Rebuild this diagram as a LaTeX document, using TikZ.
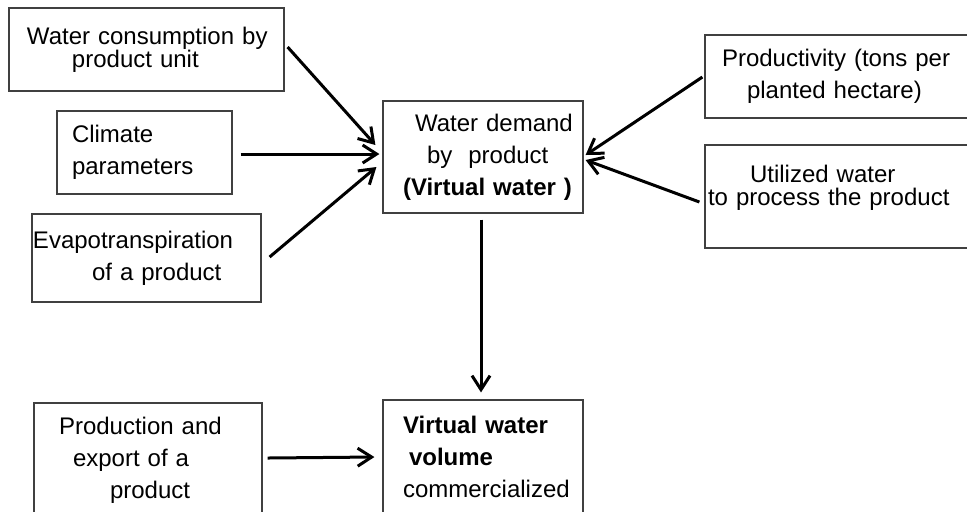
\documentclass[tikz,border=0pt]{standalone}
\usepackage{fontspec}
\setmainfont{Liberation Sans}
\usetikzlibrary{arrows.meta}

\begin{document}
\begin{tikzpicture}[x=0.5pt,y=-0.5pt,
    every node/.style={draw=black!75, line width=0.6pt, inner sep=0pt, align=left,
        font=\fontsize{12}{16}\selectfont},
    tight/.style={font=\fontsize{12}{11.5}\selectfont},
    >={Straight Barb[length=7pt,width=9pt]},
    flow/.style={->, line width=1.5pt},
]
\useasboundingbox (0,0) rectangle (967,511);
% inputs on the left
\node[tight, text width=137.5pt, minimum height=41.5pt] (cons) at (146.5,49.5)
    {\hspace*{9pt}Water consumption by\\\hspace*{31.5pt}product unit};
\node[text width=87.5pt, minimum height=41.5pt] (climate) at (144.5,152.5)
    {\hspace*{7.5pt}Climate\\\hspace*{7.5pt}parameters};
\node[text width=114.5pt, minimum height=44pt] (evapo) at (146.5,258)
    {\hspace*{0.5pt}Evapotranspiration\\\hspace*{30pt}of a product};
% centre
\node[text width=100pt, minimum height=56pt] (demand) at (483,157)
    {\hspace*{16pt}Water demand\\\hspace*{22pt}by~ product\\\hspace*{10pt}\textbf{(Virtual water )}};
% inputs on the right
\node[text width=132.5pt, minimum height=41.5pt] (prod) at (837.5,76.5)
    {\hspace*{8.5pt}Productivity (tons per\\\hspace*{21pt}planted hectare)};
\node[tight, text width=132.5pt, minimum height=51.5pt] (util) at (837.5,196.5)
    {\hspace*{22.5pt}Utilized water\\\hspace*{1.5pt}to process the product\\\mbox{}};
% bottom row
\node[text width=114pt, minimum height=57pt] (export) at (148,460)
    {\hspace*{12.5pt}Production and\\\hspace*{19.5pt}export of a\\\hspace*{38pt}product};
\node[text width=100pt, minimum height=57pt] (volume) at (483,457)
    {\hspace*{10pt}\textbf{Virtual water}\\\hspace*{13pt}\textbf{volume}\\\hspace*{10pt}commercialized};

\draw[flow] ([shift={(3,-2.5)}]cons.east) -- ([shift={(-7,-12)}]demand.west);
\draw[flow] ([shift={(8,1.5)}]climate.east) -- ([shift={(-3,-3)}]demand.west);
\draw[flow] ([shift={(8,-1)}]evapo.east) -- ([shift={(-6,10)}]demand.west);
\draw[flow] ([shift={(-2,0.5)}]prod.west) -- ([shift={(2,-2)}]demand.east);
\draw[flow] ([shift={(-5,5.5)}]util.west) -- ([shift={(2,3)}]demand.east);
\draw[flow] ([shift={(-2,6)}]demand.south) -- ([shift={(-2,-7)}]volume.north);
\draw[flow] ([shift={(5,-2)}]export.east) -- ([shift={(-8,0)}]volume.west);
\end{tikzpicture}
\end{document}
